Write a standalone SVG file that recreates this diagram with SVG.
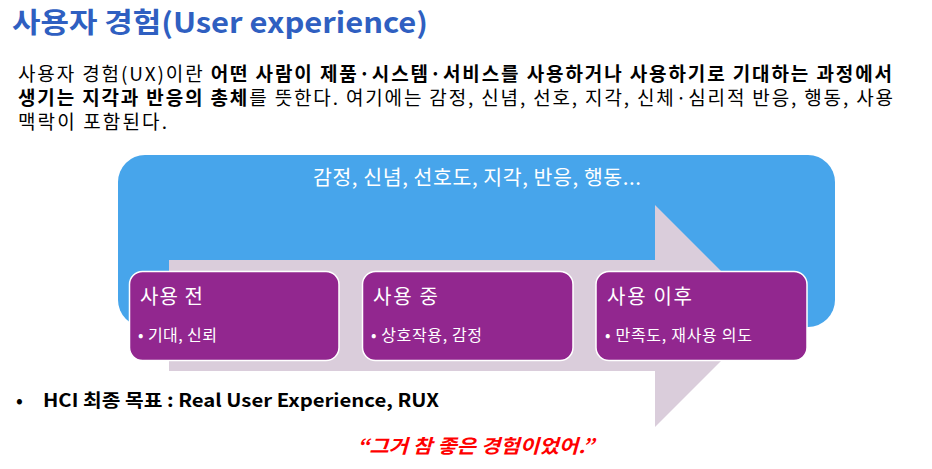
<svg xmlns="http://www.w3.org/2000/svg" width="932" height="469" viewBox="0 0 932 469">
<style>
text{font-family:"Noto Sans CJK KR","Malgun Gothic","Noto Sans",sans-serif}
.title{font-size:28px;font-weight:700;fill:#2F5FC1}
.body{font-size:19px;fill:#000}
.b{font-weight:700}
.wt{fill:#fff}
.box{fill:#92278F;stroke:#fff;stroke-width:1.5}
.bh{font-size:20px;fill:#fff}
.bl{font-size:16px;fill:#fff}
</style>
<rect width="932" height="469" fill="#fff"/>
<g id="title"><text class="title" x="12" y="33" textLength="416" lengthAdjust="spacingAndGlyphs">사용자 경험(User experience)</text></g>
<g id="definition">
<text class="body"><tspan x="18" y="81" textLength="874" lengthAdjust="spacing">사용자 경험(UX)이란 <tspan class="b">어떤 사람이 제품·시스템·서비스를 사용하거나 사용하기로 기대하는 과정에서</tspan></tspan><tspan x="18" y="105" textLength="875" lengthAdjust="spacing"><tspan class="b">생기는 지각과 반응의 총체</tspan>를 뜻한다. 여기에는 감정, 신념, 선호, 지각, 신체·심리적 반응, 행동, 사용</tspan><tspan x="18" y="129" textLength="149" lengthAdjust="spacing">맥락이 포함된다.</tspan></text>
</g>
<g id="context">
<rect x="118" y="155" width="717" height="172" rx="27" fill="#47A5EB"/>
<text class="wt" x="313" y="185" font-size="20.5" textLength="328" lengthAdjust="spacing">감정, 신념, 선호도, 지각, 반응, 행동...</text>
</g>
<g id="flow-arrow">
<polygon points="169,260 655,260 655,205 766,316 655,427 655,371 169,371" fill="#DACDDB"/>
</g>
<g id="before">
<rect class="box" x="129.5" y="271.5" width="209.5" height="89" rx="13"/>
<text class="bh" x="140" y="304" textLength="63" lengthAdjust="spacing">사용 전</text>
<text class="bl" x="138" y="341" textLength="79" lengthAdjust="spacing">• 기대, 신뢰</text>
</g>
<g id="during">
<rect class="box" x="362.5" y="271.5" width="210.5" height="89" rx="13"/>
<text class="bh" x="373" y="304" textLength="65" lengthAdjust="spacing">사용 중</text>
<text class="bl" x="371" y="341" textLength="111" lengthAdjust="spacing">• 상호작용, 감정</text>
</g>
<g id="after">
<rect class="box" x="596" y="271.5" width="211" height="89" rx="13"/>
<text class="bh" x="607" y="304" textLength="85" lengthAdjust="spacing">사용 이후</text>
<text class="bl" x="605" y="341" textLength="147" lengthAdjust="spacing">• 만족도, 재사용 의도</text>
</g>
<g id="connectors"></g>
<g id="goal">
<text x="16" y="407" font-size="18" font-weight="700" fill="#000">•</text>
<text x="43" y="407" font-size="18" font-weight="700" fill="#000" textLength="396" lengthAdjust="spacingAndGlyphs">HCI 최종 목표 : Real User Experience, RUX</text>
</g>
<g id="quote">
<text x="357" y="453" font-size="19" font-weight="700" font-style="italic" fill="#FF0000" textLength="237" lengthAdjust="spacingAndGlyphs">“그거 참 좋은 경험이었어.”</text>
</g>
</svg>
